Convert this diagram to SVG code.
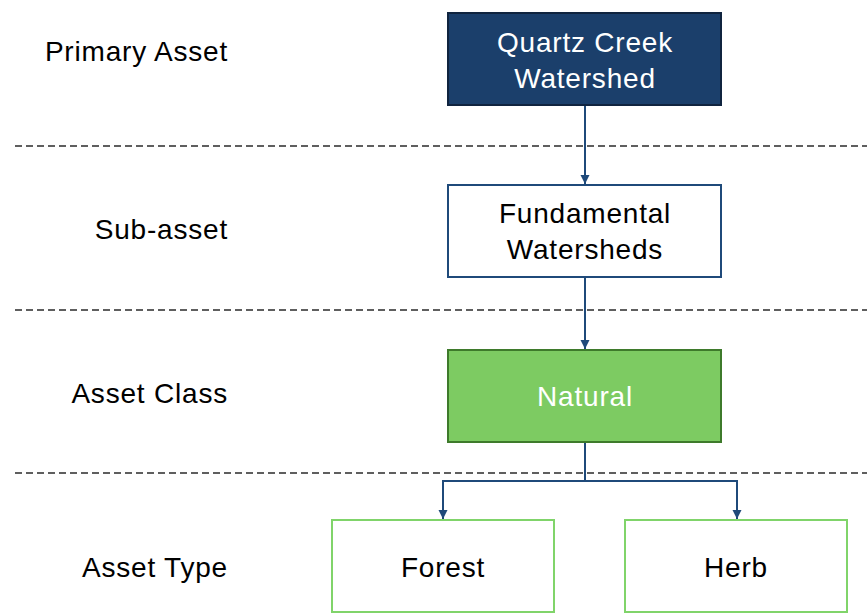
<svg xmlns="http://www.w3.org/2000/svg" width="867" height="613" viewBox="0 0 867 613">
  <style>
    .lbl { font-family: "Liberation Sans", Arial, sans-serif; font-size: 28px; letter-spacing: 0.8px; fill: #000; text-anchor: end; }
    .txt { font-family: "Liberation Sans", Arial, sans-serif; font-size: 28px; letter-spacing: 0.8px; text-anchor: middle; }
    .divider { stroke: #2b2b2b; stroke-width: 1.5; stroke-dasharray: 7 4; fill: none; }
    .conn { stroke: #1f4a7a; stroke-width: 2; fill: none; }
  </style>
  <defs>
    <marker id="arrow" viewBox="0 0 10 10" refX="10" refY="5" markerWidth="9" markerHeight="10" orient="auto" markerUnits="userSpaceOnUse">
      <path d="M0,0 L10,5 L0,10 z" fill="#1f4a7a"/>
    </marker>
  </defs>
  <rect width="867" height="613" fill="#fff"/>

  <!-- level dividers -->
  <g id="dividers">
    <line class="divider" x1="15" y1="146" x2="867" y2="146"/>
    <line class="divider" x1="15" y1="310" x2="867" y2="310"/>
    <line class="divider" x1="15" y1="473" x2="867" y2="473"/>
  </g>

  <!-- level labels -->
  <g id="labels">
    <text class="lbl" x="228" y="61">Primary Asset</text>
    <text class="lbl" x="228" y="239">Sub-asset</text>
    <text class="lbl" x="228" y="403">Asset Class</text>
    <text class="lbl" x="228" y="577">Asset Type</text>
  </g>

  <!-- connectors -->
  <g id="connectors">
    <path class="conn" d="M585,105 V184" marker-end="url(#arrow)"/>
    <path class="conn" d="M585,277 V349" marker-end="url(#arrow)"/>
    <path class="conn" d="M585,442 V481 H443 V519" marker-end="url(#arrow)"/>
    <path class="conn" d="M585,481 H737 V519" marker-end="url(#arrow)"/>
  </g>

  <g id="quartz-creek">
    <rect x="448" y="13" width="273" height="92" fill="#1b3f6b" stroke="#10243f" stroke-width="2"/>
    <text class="txt" x="585" y="52" fill="#fff">Quartz Creek</text>
    <text class="txt" x="585" y="88" fill="#fff">Watershed</text>
  </g>

  <g id="fundamental">
    <rect x="448" y="185" width="273" height="92" fill="#fff" stroke="#1f4a7a" stroke-width="2"/>
    <text class="txt" x="585" y="223" fill="#000">Fundamental</text>
    <text class="txt" x="585" y="259" fill="#000">Watersheds</text>
  </g>

  <g id="natural">
    <rect x="448" y="350" width="273" height="92" fill="#7dcb62" stroke="#3e7a2b" stroke-width="2"/>
    <text class="txt" x="585" y="406" fill="#fff">Natural</text>
  </g>

  <g id="forest">
    <rect x="332" y="520" width="222" height="92" fill="#fff" stroke="#80d46a" stroke-width="2"/>
    <text class="txt" x="443" y="577" fill="#000">Forest</text>
  </g>

  <g id="herb">
    <rect x="625" y="520" width="222" height="92" fill="#fff" stroke="#80d46a" stroke-width="2"/>
    <text class="txt" x="736" y="577" fill="#000">Herb</text>
  </g>
</svg>
